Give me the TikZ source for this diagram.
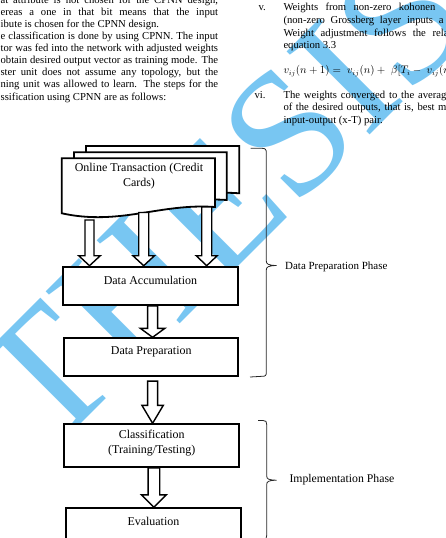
\documentclass[tikz,border=0pt]{standalone}
\usepackage{fontspec}
\setmainfont{Liberation Serif}
\usetikzlibrary{calc}
\definecolor{wm}{RGB}{120,198,242}
\tikzset{
 box/.style={draw, line width=1.8bp, fill=white, anchor=north west, inner sep=0},
 blk/.style={draw, line width=1.4bp, fill=white, line join=miter},
 doc/.style={draw, line width=1.8bp, fill=white, line join=miter},
 brc/.style={draw=black!85, line width=0.8bp},
 lbl/.style={font=\fontsize{12}{14.5}\selectfont, inner sep=0, align=center},
 parj/.style={font=\fontsize{10.7}{12}\selectfont, inner sep=0, anchor=base east},
 parl/.style={font=\fontsize{10.7}{12}\selectfont, inner sep=0, anchor=base west},
}
\newcommand\barrow[5]{\draw[blk] let \p1=(#1),\p2=(#2) in
  (\x1-#3,\y1) -- (\x1-#3,\y2+#5) -- (\x1-#4,\y2+#5) -- (\x1,\y2) --
  (\x1+#4,\y2+#5) -- (\x1+#3,\y2+#5) -- (\x1+#3,\y1) -- cycle;}
\begin{document}
\begin{tikzpicture}[x=1bp,y=-1bp]
\useasboundingbox (0,0) rectangle (446,538);
\clip (0,0) rectangle (446,538);
% watermark
\node[text=wm, font=\fontsize{180}{180}\selectfont, rotate=45, inner sep=0] (wmk) at (222,200) {THESIS};
% left column text
\node[parj] (l0) at (218.3,3.3) {\makebox[217.5bp][s]{at attribute is not chosen for the CPNN design,}};
\node[parj] (l1) at (218.3,15.4) {\makebox[217.5bp][s]{ereas a one in that bit means that the input}};
\node[parl] (l2) at (0.5,27.5) {ibute is chosen for the CPNN design.};
\node[parj] (l3) at (218.3,39.6) {\makebox[217.5bp][s]{e classification is done by using CPNN. The input}};
\node[parj] (l4) at (218.3,51.7) {\makebox[217.5bp][s]{tor was fed into the network with adjusted weights}};
\node[parj] (l5) at (218.3,63.8) {\makebox[217.5bp][s]{obtain desired output vector as training mode. The}};
\node[parj] (l6) at (218.3,75.9) {\makebox[217.5bp][s]{ster unit does not assume any topology, but the}};
\node[parj] (l7) at (218.3,88) {\makebox[217.5bp][s]{ning unit was allowed to learn. The steps for the}};
\node[parl] (l8) at (0.5,100.1) {ssification using CPNN are as follows:};
% right column text
\node[parl] (rv) at (258.3,10.5) {v.};
\node[parl] (r1) at (283.3,10.5) {\makebox[152bp][s]{Weights from non-zero kohonen}};
\node[parl] (r2) at (283.3,23.3) {\makebox[160bp][s]{(non-zero Grossberg layer inputs a}};
\node[parl] (r3) at (283.3,36.1) {\makebox[165bp][s]{Weight adjustment follows the rela}};
\node[parl] (r4) at (283.3,48.9) {equation 3.3};
\node[parl] (req) at (283.3,74) {$v_{ij}(n+1) =\; v_{ij}(n) +\; \beta\bigl[T_i -\; v_{ij}(n)k_j$};
\node[parl] (rvi) at (254.3,98.5) {vi.};
\node[parl] (r5) at (283.3,98.5) {\makebox[163bp][s]{The weights converged to the averag}};
\node[parl] (r6) at (283.3,110.8) {\makebox[163bp][s]{of the desired outputs, that is, best m}};
\node[parl] (r7) at (283.3,123.1) {input-output (x-T) pair.};
% multi-document
\draw[doc] (86,146) -- (239.3,146) -- (239.3,193.3) .. controls (184,189) and (144,212) .. (86,199) -- cycle;
\draw[doc] (74,152.3) -- (226.7,152.3) -- (226.7,200) .. controls (172,196) and (132,219) .. (74,206) -- cycle;
\draw[doc] (61.7,158.3) -- (215,158.3) -- (215,207) .. controls (160,203) and (120,226) .. (61.7,213.3) -- cycle;
\node[lbl] (online) at (139,176.3) {Online Transaction (Credit\\Cards)};
% boxes
\node[box, minimum width=175.6bp, minimum height=38.3bp] (acc) at (61.7,265.7) {};
\node[lbl] (accl) at ($(acc.north)+(0,14.3)$) {Data Accumulation};
\node[box, minimum width=174bp, minimum height=38bp] (prep) at (63.3,337.3) {};
\node[lbl] (prepl) at ($(prep.north)+(0,14.7)$) {Data Preparation};
\node[box, minimum width=175bp, minimum height=42.7bp] (cls) at (63.3,423.3) {};
\node[lbl] (clsl) at ($(cls.north)+(0,19.8)$) {Classification\\(Training/Testing)};
\node[box, minimum width=175bp, minimum height=45bp] (eval) at (65,507.3) {};
\node[lbl] (evall) at ($(eval.north)+(0,13.7)$) {Evaluation};
% block arrows
\coordinate (s1) at (89.5,220);
\coordinate (s2) at (143.7,212.5);
\coordinate (s3) at (206.7,207);
\barrow{s1}{s1 |- acc.north}{4.5bp}{10.8bp}{10bp}
\barrow{s2}{s2 |- acc.north}{5bp}{10.8bp}{10bp}
\barrow{s3}{s3 |- acc.north}{5bp}{10.5bp}{10bp}
\coordinate (s4) at ($(acc.south)+(2.2,0)$);
\barrow{s4}{s4 |- prep.north}{5bp}{12.3bp}{9bp}
\coordinate (s5) at ($(prep.south)+(1.4,4)$);
\barrow{s5}{s5 |- cls.north}{5bp}{10.7bp}{18bp}
\coordinate (s6) at ($(cls.south)+(2.2,0)$);
\barrow{s6}{s6 |- eval.north}{5.8bp}{12.5bp}{12.5bp}
% braces
\draw[brc] (250.5,148.3) -- (262,148.3) .. controls (265.5,148.3) and (266.3,149.5) .. (266.3,153)
  -- (266.3,261) .. controls (266.3,264) and (268,265.3) .. (276.5,265.5)
  .. controls (268,265.7) and (266.3,267) .. (266.3,270) -- (266.3,372)
  .. controls (266.3,375.5) and (265.5,376.3) .. (262,376.3) -- (250,377);
\draw[brc] (258,420.5) -- (263,420.5) .. controls (266,420.5) and (266.7,421.5) .. (266.7,424.5)
  -- (266.7,476) .. controls (266.7,479) and (268.5,480) .. (276.5,480.2)
  .. controls (268.5,480.4) and (266.7,481.5) .. (266.7,484.5) -- (266.7,535.5)
  .. controls (266.7,538.5) and (266,539.8) .. (263,539.8) -- (258,539.8);
\node[font=\fontsize{11}{13}\selectfont, inner sep=0, anchor=west] (ph1) at (285,267.3) {Data Preparation Phase};
\node[font=\fontsize{11.8}{13}\selectfont, inner sep=0, anchor=west] (ph2) at (289.3,480) {Implementation Phase};
\end{tikzpicture}
\end{document}
